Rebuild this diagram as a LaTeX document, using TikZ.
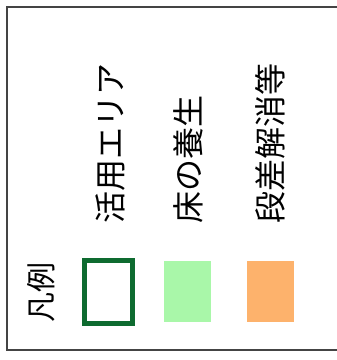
\documentclass[tikz,border=0pt]{standalone}
\usepackage{fontspec}
\newfontfamily\jp{Noto Sans CJK JP}
\definecolor{frameC}{HTML}{444444}
\definecolor{darkG}{HTML}{0E6B30}
\definecolor{lightG}{HTML}{A9F7A9}
\definecolor{orangeC}{HTML}{FDB26C}
\begin{document}
\begin{tikzpicture}[x=1pt,y=-1pt,
  lbl/.style={rotate=90,anchor=west,inner sep=0pt,font=\jp\fontsize{32}{32}\selectfont},
  swatch/.style={minimum width=47pt,minimum height=61pt,inner sep=0pt}]
\useasboundingbox (0,0) rectangle (337,360);
\fill[white] (0,0) rectangle (337,360);
\draw[frameC,line width=2pt] (345,7) -- (7,7) -- (7,350) -- (345,350);
\node[lbl] (t1) at (110,224) {活用エリア};
\node[lbl] (t2) at (188,224) {床の養生};
\node[lbl] (t3) at (270,224) {段差解消等};
\node[rotate=90,inner sep=0pt,font=\jp\fontsize{30}{30}\selectfont] (leg) at (41,292) {凡例};
\node[swatch,draw=darkG,line width=5pt,minimum width=48pt,minimum height=63pt] (s1) at (108.5,292) {};
\node[swatch,fill=lightG] (s2) at (187.5,291.5) {};
\node[swatch,fill=orangeC] (s3) at (270.5,291.5) {};
\end{tikzpicture}
\end{document}
